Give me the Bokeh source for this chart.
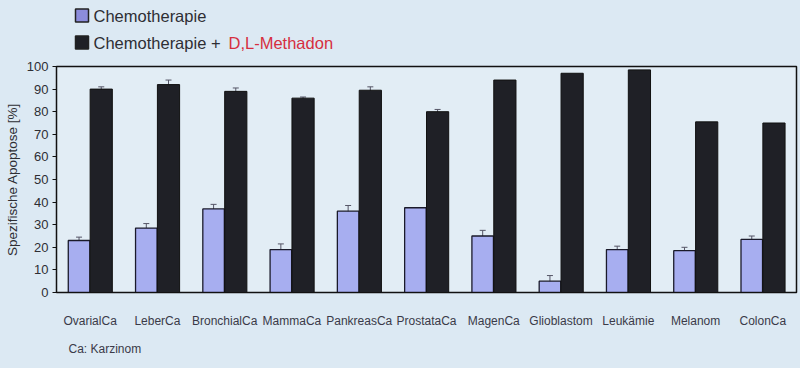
from bokeh.plotting import figure
from bokeh.models import FactorRange, Range1d, ColumnDataSource, Whisker, FixedTicker
from bokeh.transform import dodge
from bokeh.layouts import column
from bokeh.core.properties import value
from bokeh.embed import file_html
from bokeh.resources import INLINE

categories = ["OvarialCa", "LeberCa", "BronchialCa", "MammaCa", "PankreasCa", "ProstataCa",
              "MagenCa", "Glioblastom", "Leukämie", "Melanom", "ColonCa"]
chemo = [23, 28.5, 37, 19, 36, 37.5, 25, 5, 19, 18.5, 23.5]
chemo_err = [1.5, 2.0, 2.0, 2.5, 2.5, 0, 2.5, 2.5, 1.5, 1.5, 1.5]
chemo_meth = [90, 92, 89, 86, 89.5, 80, 94, 97, 98.5, 75.5, 75]
chemo_meth_err = [1.0, 2.0, 1.5, 0.5, 1.5, 1.0, 0, 0, 0, 0, 0]
y_ticks = [0, 10, 20, 30, 40, 50, 60, 70, 80, 90, 100]
legend_labels = ["Chemotherapie", "Chemotherapie + ", "D,L-Methadon"]
footnote = "Ca: Karzinom"

FONT = "Liberation Sans"
BG = "#dce9f3"
PLOT_BG = "#e2edf5"
LIGHT = "#a7aef0"
DARK = "#1f2026"
TEXT = "#2e2e33"
RED = "#d62f3f"
W = 800
BL, BR = 56, 4   # borders so that all frames span page x 56..796


def strip(h):
    f = figure(width=W, height=h, x_range=Range1d(0, W - BL - BR), y_range=Range1d(h, 0),
               output_backend="svg", toolbar_location=None, x_axis_location=None,
               y_axis_location=None, min_border_left=BL, min_border_right=BR,
               min_border_top=0, min_border_bottom=0, outline_line_color=None,
               border_fill_color=None, background_fill_color=None)
    f.grid.visible = False
    return f

# ---- legend strip (page y 0..58); x is page x minus 56 ----
leg = strip(58)
leg.rect(x=[25.5, 25.5], y=[15, 42], width=13, height=13,
         fill_color=["#8c8cdc", DARK], line_color="#222222", line_width=1.5)
leg.text(x=[37, 37], y=[15, 42], text=legend_labels[:2], text_baseline="middle",
         text_font=value(FONT), text_font_size="16.5px", text_color=TEXT)
leg.text(x=[172], y=[42], text=legend_labels[2:], text_baseline="middle",
         text_font=value(FONT), text_font_size="16.5px", text_color=RED)

# ---- main chart (page y 58..330) ----
src = ColumnDataSource(dict(cat=categories, chemo=chemo, meth=chemo_meth))
p = figure(width=W, height=272, x_range=FactorRange(*categories), y_range=Range1d(0, 100),
           output_backend="svg", toolbar_location=None,
           min_border_left=BL, min_border_right=BR, min_border_top=8, min_border_bottom=37,
           border_fill_color=None, background_fill_color=PLOT_BG,
           outline_line_color="#111111", outline_line_width=1.5)
p.x_range.range_padding = 0
p.grid.visible = False

p.vbar(x=dodge("cat", -0.165, range=p.x_range), top="chemo", width=0.32, source=src,
       fill_color=LIGHT, line_color="#1a1a2a", line_width=1.3)
p.vbar(x=dodge("cat", 0.165, range=p.x_range), top="meth", width=0.33, source=src,
       fill_color=DARK, line_color="#111111", line_width=1.0)


def whisk(vals, errs, off):
    idx = [i for i in range(len(vals)) if errs[i] > 0]
    s = ColumnDataSource(dict(cat=[categories[i] for i in idx],
                              upper=[vals[i] + errs[i] for i in idx],
                              lower=[vals[i] - errs[i] for i in idx]))
    w = Whisker(source=s, base=dodge("cat", off, range=p.x_range), upper="upper", lower="lower",
                line_color="#555566", line_width=1)
    for h in (w.upper_head, w.lower_head):
        h.size = 6
        h.line_color = "#555566"
    p.add_layout(w)


whisk(chemo, chemo_err, -0.165)
whisk(chemo_meth, chemo_meth_err, 0.165)

p.yaxis.ticker = FixedTicker(ticks=y_ticks)
p.yaxis.axis_label = "Spezifische Apoptose [%]"
p.yaxis.axis_label_text_font = FONT
p.yaxis.axis_label_text_font_style = "normal"
p.yaxis.axis_label_text_font_size = "13.5px"
p.yaxis.axis_label_text_color = TEXT
p.yaxis.axis_label_standoff = 4
p.yaxis.major_label_text_font = FONT
p.yaxis.major_label_text_font_size = "13px"
p.yaxis.major_label_text_color = TEXT
p.yaxis.major_label_standoff = 4
p.yaxis.axis_line_color = "#111111"
p.yaxis.major_tick_line_color = "#111111"
p.yaxis.major_tick_in = 0
p.yaxis.major_tick_out = 4
p.yaxis.minor_tick_line_color = None

p.xaxis.axis_line_color = "#111111"
p.xaxis.major_tick_line_color = None
p.xaxis.minor_tick_line_color = None
p.xaxis.major_label_text_font = FONT
p.xaxis.major_label_text_font_size = "12px"
p.xaxis.major_label_text_color = "#3a3a48"
p.xaxis.major_label_standoff = 15

# ---- footnote strip (page y 330..368) ----
foot = strip(38)
foot.text(x=[12], y=[18], text=[footnote], text_baseline="middle",
          text_font=value(FONT), text_font_size="12px", text_color="#3a3a48")

layout = column(leg, p, foot, spacing=0, styles={"background-color": BG})
open("out.html", "w").write(file_html(layout, INLINE))
